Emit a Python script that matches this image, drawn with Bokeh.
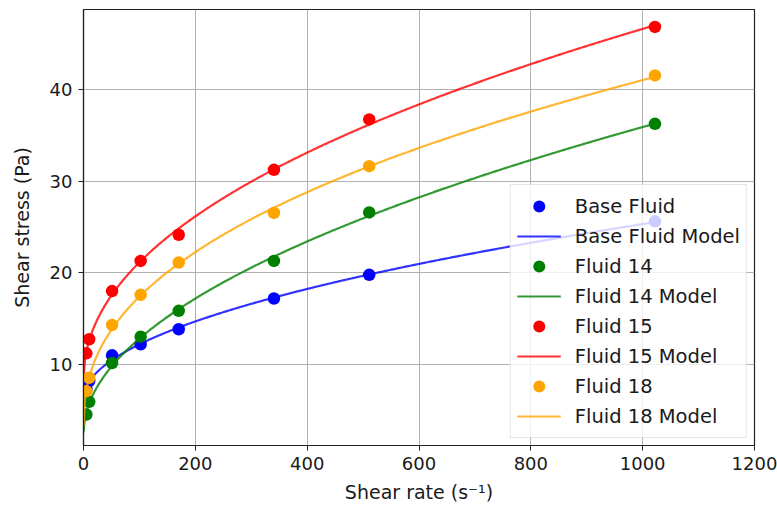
import numpy as np
from bokeh.plotting import figure
from bokeh.models import Legend, LegendItem, FixedTicker, Range1d
from bokeh.embed import file_html
from bokeh.resources import INLINE

# Fann viscometer shear rates (1/s)
shear_rate = [5.11, 10.22, 51.1, 102.2, 170.3, 340.6, 511.0, 1022.0]

# Measured shear stress (Pa)
base_fluid = [7.3, 8.2, 10.98, 12.19, 13.83, 17.19, 19.78, 25.62]
fluid_14 = [4.52, 5.9, 10.14, 13.02, 15.84, 21.3, 26.6, 36.28]
fluid_15 = [11.2, 12.74, 18.0, 21.3, 24.16, 31.25, 36.76, 46.87]
fluid_18 = [7.07, 8.53, 14.3, 17.59, 21.13, 26.54, 31.65, 41.57]

names = ["Base Fluid", "Fluid 14", "Fluid 15", "Fluid 18"]
colors = ["#0000ff", "#008000", "#ff0000", "#ffa500"]
series = [base_fluid, fluid_14, fluid_15, fluid_18]

x_ticks = [0, 200, 400, 600, 800, 1000, 1200]
y_ticks = [10, 20, 30, 40]


def herschel_bulkley_fit(x, y):
    """Least-squares fit of tau = tau0 + K * gamma^n (scan over n)."""
    x = np.asarray(x, float)
    y = np.asarray(y, float)
    best = None
    for n in np.linspace(0.15, 1.2, 2101):
        A = np.column_stack([np.ones_like(x), x ** n])
        coef, *_ = np.linalg.lstsq(A, y, rcond=None)
        sse = float(np.sum((A @ coef - y) ** 2))
        if best is None or sse < best[0]:
            best = (sse, coef[0], coef[1], n)
    return best[1], best[2], best[3]


FONT = "DejaVu Sans"
TEXT = "#1a1a1a"

p = figure(width=777, height=513, output_backend="svg", toolbar_location=None,
           x_range=Range1d(0, 1200), y_range=Range1d(1.13, 48.77),
           min_border_left=83, min_border_right=23, min_border_top=9,
           min_border_bottom=68)

p.xaxis.ticker = FixedTicker(ticks=x_ticks)
p.yaxis.ticker = FixedTicker(ticks=y_ticks)
p.xaxis.axis_label = "Shear rate (s\u207b\u00b9)"
p.yaxis.axis_label = "Shear stress (Pa)"
for ax in (p.xaxis, p.yaxis):
    ax.axis_label_text_font = FONT
    ax.axis_label_text_font_size = "19px"
    ax.axis_label_text_font_style = "normal"
    ax.axis_label_text_color = TEXT
    ax.major_label_text_font = FONT
    ax.major_label_text_font_size = "18px"
    ax.major_label_text_color = TEXT
    ax.major_tick_out = 5
    ax.major_tick_in = 0
    ax.minor_tick_out = 0
    ax.minor_tick_in = 0
    ax.axis_line_color = "#222222"
    ax.major_tick_line_color = "#222222"
    ax.axis_line_width = 1.2
p.xaxis.major_label_standoff = 6
p.yaxis.major_label_standoff = 6
p.xaxis.axis_label_standoff = 8
p.yaxis.axis_label_standoff = 14

p.xgrid.grid_line_color = "#b0b0b0"
p.ygrid.grid_line_color = "#b0b0b0"
p.xgrid.grid_line_width = 1
p.ygrid.grid_line_width = 1
p.outline_line_color = "#222222"
p.outline_line_width = 1.2
p.background_fill_color = "white"
p.border_fill_color = "white"

items = []
for name, color, ys in zip(names, colors, series):
    pts = p.scatter(shear_rate, ys, size=12.5, color=color, line_width=0)
    tau0, K, n = herschel_bulkley_fit(shear_rate, ys)
    xm = np.linspace(0, max(shear_rate), 400)
    ym = tau0 + K * xm ** n
    ln = p.line(xm, ym, line_color=color, line_alpha=0.8, line_width=2.2)
    items.append(LegendItem(label=name, renderers=[pts]))
    items.append(LegendItem(label=name + " Model", renderers=[ln]))

legend = Legend(items=items, location="bottom_right")
legend.label_text_font = FONT
legend.label_text_font_size = "19.5px"
legend.label_text_color = TEXT
legend.glyph_width = 44
legend.glyph_height = 30
legend.label_height = 30
legend.spacing = 0
legend.label_standoff = 14
legend.padding = 6
legend.margin = 7
legend.border_line_color = "#cccccc"
legend.border_line_width = 1
legend.background_fill_alpha = 0.8
p.add_layout(legend, "center")

open("out.html", "w").write(file_html(p, INLINE))
